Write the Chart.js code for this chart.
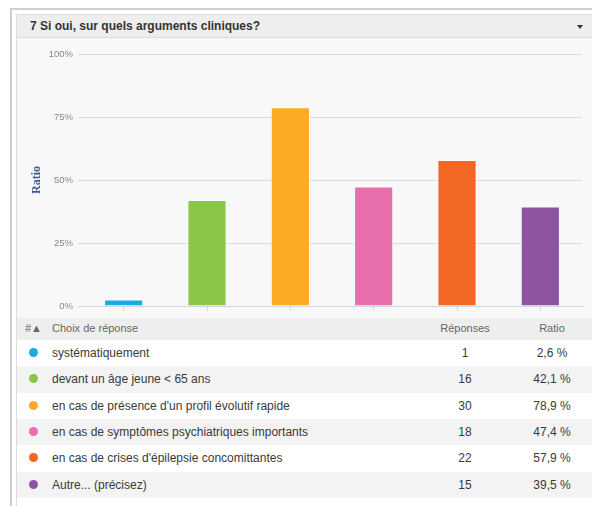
<!DOCTYPE html>
<html>
<head>
<meta charset="utf-8">
<script src="https://cdn.jsdelivr.net/npm/chart.js@4/dist/chart.umd.min.js"></script>
<style>
  html, body { margin: 0; padding: 0; background: #fff; width: 592px; height: 506px; overflow: hidden; }
  body { font-family: "Liberation Sans", Arial, sans-serif; position: relative; }
  #outer { position: absolute; left: 10px; top: 8px; width: 600px; height: 520px; border-left: 2px solid #cfcfcf; border-top: 2px solid #cfcfcf; box-sizing: border-box; }
  #panel { position: absolute; left: 16px; top: 14px; width: 600px; height: 520px; border-left: 1px solid #dcdcdc; border-top: 1px solid #dcdcdc; box-sizing: border-box; background: #fff; }
  #hdr { position: absolute; left: 17px; top: 15px; width: 600px; height: 23px; background: #eeeeee; border-bottom: 1px solid #dcdcdc; box-sizing: border-box; }
  #hdr span { position: absolute; left: 13px; top: 4px; font-size: 12px; font-weight: bold; color: #333; }
  #tri { position: absolute; left: 577px; top: 25px; width: 0; height: 0; border-left: 3px solid transparent; border-right: 3px solid transparent; border-top: 4px solid #333; }
  #chartbox { position: absolute; left: 17px; top: 38px; width: 575px; height: 280px; background: #f8f8f8; }
  #tbl { position: absolute; left: 17px; top: 318px; width: 575px; }
  .row { position: absolute; left: 0; width: 575px; font-size: 12px; color: #3a3a3a; }
  .head { background: #eeeeee; color: #666; font-size: 11px; }
  .dot { position: absolute; left: 12px; width: 9px; height: 9px; border-radius: 50%; }
  .c1 { position: absolute; left: 35px; }
  .c2 { position: absolute; left: 403px; width: 90px; text-align: center; }
  .c3 { position: absolute; left: 500px; width: 70px; text-align: center; }
</style>
</head>
<body>
<div id="outer"></div>
<div id="panel"></div>
<div id="hdr"><span>7 Si oui, sur quels arguments cliniques?</span></div>
<div id="tri"></div>
<div id="chartbox"><canvas id="c" width="575" height="280"></canvas></div>
<div id="tbl"></div>
<script>
const categories = [
  "systématiquement",
  "devant un âge jeune < 65 ans",
  "en cas de présence d'un profil évolutif rapide",
  "en cas de symptômes psychiatriques importants",
  "en cas de crises d'épilepsie concomittantes",
  "Autre... (précisez)"
];
const responses = [1, 16, 30, 18, 22, 15];
const ratios = [2.6, 42.1, 78.9, 47.4, 57.9, 39.5];
const yTicks = [0, 25, 50, 75, 100];
const colors = ["#1ea9e1", "#8bc647", "#fdaa25", "#e86fab", "#f26722", "#8e54a0"];

// table
const tbl = document.getElementById('tbl');
const headH = 22, rowH = 26.3;
let h = document.createElement('div');
h.className = 'row head';
h.style.top = '0px'; h.style.height = headH + 'px';
h.innerHTML = '<span style="position:absolute;left:8px;top:4px">#▲</span><span class="c1" style="top:4px">Choix de réponse</span><span class="c2" style="top:4px">Réponses</span><span class="c3" style="top:4px">Ratio</span>';
tbl.appendChild(h);
categories.forEach((cat, i) => {
  const r = document.createElement('div');
  r.className = 'row';
  const top = headH + i * rowH;
  r.style.top = top + 'px';
  r.style.height = rowH + 'px';
  r.style.background = (i % 2 === 0) ? '#ffffff' : '#f3f3f3';
  const pct = ratios[i].toFixed(1).replace('.', ',') + ' %';
  r.innerHTML = '<span class="dot" style="top:8px;background:' + colors[i] + '"></span>' +
    '<span class="c1" style="top:6px">' + cat.replace(/</g, '&lt;') + '</span>' +
    '<span class="c2" style="top:6px">' + responses[i] + '</span>' +
    '<span class="c3" style="top:6px">' + pct + '</span>';
  tbl.appendChild(r);
});

new Chart(document.getElementById('c'), {
  type: 'bar',
  data: {
    labels: categories,
    datasets: [{
      data: ratios,
      backgroundColor: colors,
      borderColor: 'rgba(255,255,255,0.55)',
      borderWidth: 1,
      categoryPercentage: 1,
      barPercentage: 0.47
    }]
  },
  options: {
    responsive: false,
    animation: false,
    events: [],
    layout: { padding: { top: 16, right: 10, left: 0, bottom: 0 } },
    plugins: { legend: { display: false }, tooltip: { enabled: false } },
    scales: {
      x: {
        grid: { display: true, drawOnChartArea: false, drawTicks: true, tickLength: 5, offset: false, color: '#ccd6e6' },
        border: { display: true, color: '#ccd6e6', width: 1 },
        ticks: { display: false },
        afterFit: s => { s.height = 12; }
      },
      y: {
        min: 0, max: 100,
        afterBuildTicks: s => { s.ticks = yTicks.map(v => ({ value: v })); },
        ticks: { callback: v => v + '%', color: '#888', font: { family: 'Liberation Sans', size: 9.5 }, padding: 5 },
        grid: { color: '#dcdcdc', lineWidth: 1, tickLength: 4, drawTicks: true },
        border: { display: false },
        title: { display: true, text: 'Ratio', color: '#3d5a98', font: { family: 'Liberation Serif', size: 12, weight: 'bold' }, padding: { top: 13, bottom: 0 } },
        afterFit: s => { s.width = 65; }
      }
    }
  }
});
</script>
</body>
</html>
